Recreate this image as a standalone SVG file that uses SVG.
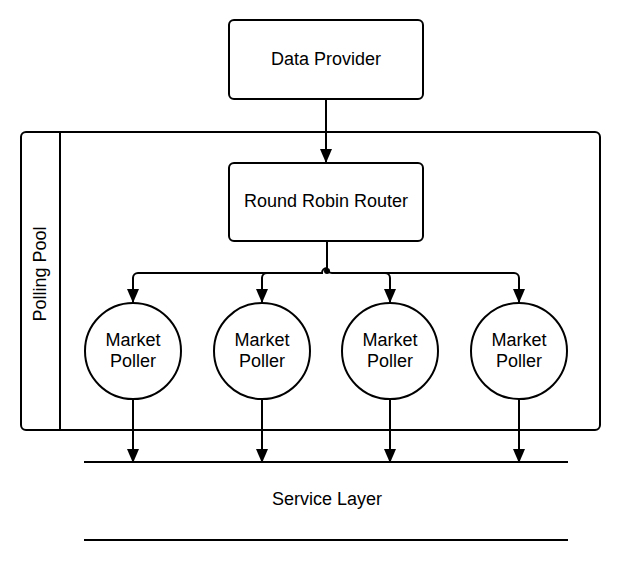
<svg xmlns="http://www.w3.org/2000/svg" width="624" height="565" viewBox="0 0 624 565">
<style>
.box{fill:#fff;stroke:#000;stroke-width:2}
.ln{fill:none;stroke:#000;stroke-width:2}
.t{font-family:"Liberation Sans",Arial,sans-serif;font-size:18px;fill:#000;text-anchor:middle}
</style>
<defs>
<marker id="a" markerWidth="14" markerHeight="12" refX="14" refY="6" orient="auto" markerUnits="userSpaceOnUse">
<path d="M0,0 L14,6 L0,12 Z" fill="#000"/>
</marker>
</defs>
<rect width="624" height="565" fill="#fff"/>
<g id="pool">
<rect class="box" x="21" y="132" width="579" height="298" rx="5"/>
<line class="ln" x1="60" y1="132" x2="60" y2="430"/>
<text class="t" transform="translate(46 274) rotate(-90)">Polling Pool</text>
</g>
<g id="data-provider">
<rect class="box" x="229" y="20" width="194" height="79" rx="5"/>
<text class="t" x="326" y="65">Data Provider</text>
</g>
<g id="router">
<rect class="box" x="229" y="163" width="194" height="78" rx="5"/>
<text class="t" x="326" y="207">Round Robin Router</text>
</g>
<g id="poller1">
<circle class="box" cx="133" cy="351" r="48"/>
<text class="t" x="133" y="346">Market</text>
<text class="t" x="133" y="367">Poller</text>
</g>
<g id="poller2">
<circle class="box" cx="262" cy="351" r="48"/>
<text class="t" x="262" y="346">Market</text>
<text class="t" x="262" y="367">Poller</text>
</g>
<g id="poller3">
<circle class="box" cx="390" cy="351" r="48"/>
<text class="t" x="390" y="346">Market</text>
<text class="t" x="390" y="367">Poller</text>
</g>
<g id="poller4">
<circle class="box" cx="519" cy="351" r="48"/>
<text class="t" x="519" y="346">Market</text>
<text class="t" x="519" y="367">Poller</text>
</g>
<g id="service-layer">
<line class="ln" x1="84" y1="462" x2="568" y2="462"/>
<line class="ln" x1="84" y1="540" x2="568" y2="540"/>
<text class="t" x="327" y="505">Service Layer</text>
</g>
<g id="connectors">
<line class="ln" x1="326" y1="99" x2="326" y2="163" marker-end="url(#a)"/>
<path class="ln" d="M327,241 V268 A5,5 0 0 0 322,273 H138 A5,5 0 0 0 133,278 V303" marker-end="url(#a)"/>
<path class="ln" d="M322,273 H267 A5,5 0 0 0 262,278 V303" marker-end="url(#a)"/>
<path class="ln" d="M327,268 A5,5 0 0 0 332,273 H385 A5,5 0 0 1 390,278 V303" marker-end="url(#a)"/>
<path class="ln" d="M385,273 H514 A5,5 0 0 1 519,278 V303" marker-end="url(#a)"/>
<circle cx="327" cy="271" r="3" fill="#000"/>
<line class="ln" x1="133" y1="399" x2="133" y2="463" marker-end="url(#a)"/>
<line class="ln" x1="262" y1="399" x2="262" y2="463" marker-end="url(#a)"/>
<line class="ln" x1="390" y1="399" x2="390" y2="463" marker-end="url(#a)"/>
<line class="ln" x1="519" y1="399" x2="519" y2="463" marker-end="url(#a)"/>
</g>
</svg>
